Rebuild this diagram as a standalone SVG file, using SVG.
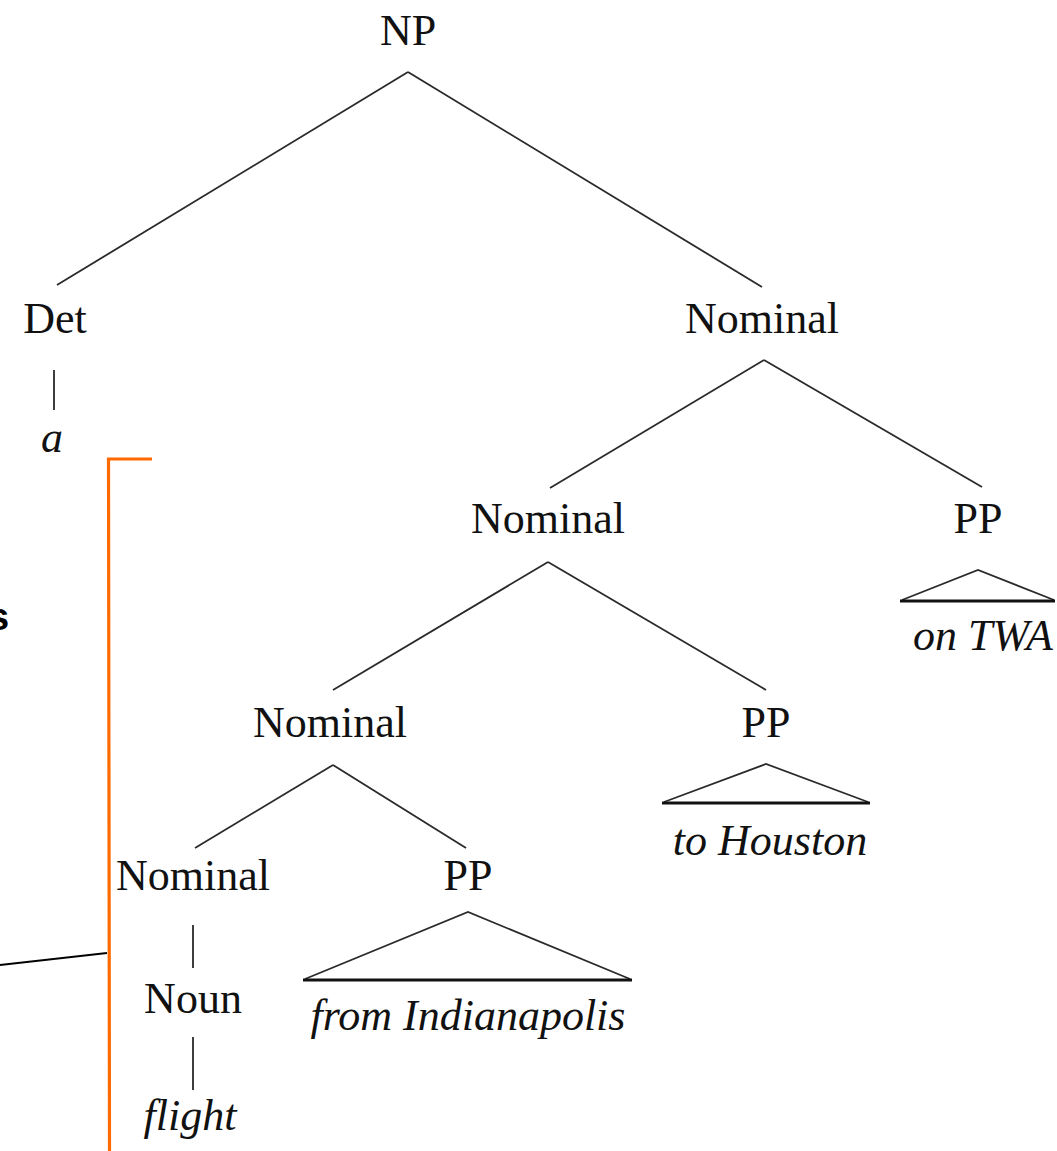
<svg xmlns="http://www.w3.org/2000/svg" width="1057" height="1151" viewBox="0 0 1057 1151">
<style>
.lbl{font-size:44px;fill:#111;text-anchor:middle}
.it{font-size:44px;font-style:italic;fill:#111;text-anchor:middle}
.e{stroke:#2a2a2a;stroke-width:1.8;fill:none}
.tri{stroke:#2a2a2a;stroke-width:1.8;fill:none}
.base{stroke:#111;stroke-width:3}
</style>
<rect width="1057" height="1151" fill="#fff"/>
<g id="connectors">
<line class="e" x1="408" y1="72" x2="57" y2="285"/>
<line class="e" x1="408" y1="72" x2="762" y2="287"/>
<line class="e" x1="54" y1="370" x2="54" y2="410"/>
<line class="e" x1="764" y1="360" x2="550" y2="488"/>
<line class="e" x1="764" y1="360" x2="982" y2="487"/>
<line class="e" x1="548" y1="562" x2="333" y2="690"/>
<line class="e" x1="548" y1="562" x2="766" y2="690"/>
<line class="e" x1="333" y1="765" x2="195" y2="848"/>
<line class="e" x1="333" y1="765" x2="466" y2="848"/>
<line class="e" x1="193" y1="925" x2="193" y2="968"/>
<line class="e" x1="193" y1="1037" x2="193" y2="1090"/>
</g>
<g font-family="Liberation Serif, serif">
<g id="NP"><text class="lbl" x="408" y="45">NP</text></g>
<g id="Det"><text class="lbl" x="55" y="333">Det</text></g>
<g id="a"><text class="it" x="52" y="452">a</text></g>
<g id="Nominal1"><text class="lbl" x="762" y="333">Nominal</text></g>
<g id="Nominal2"><text class="lbl" x="548" y="533">Nominal</text></g>
<g id="PP1"><text class="lbl" x="978" y="533">PP</text></g>
<g id="PP1tri"><polyline class="tri" points="902,600 978,570 1054,600"/><line class="base" x1="900" y1="601" x2="1055" y2="601"/></g>
<g id="onTWA"><text class="it" x="983" y="650">on TWA</text></g>
<g id="Nominal3"><text class="lbl" x="330" y="737">Nominal</text></g>
<g id="PP2"><text class="lbl" x="766" y="737">PP</text></g>
<g id="PP2tri"><polyline class="tri" points="664,802 766,764 868,802"/><line class="base" x1="662" y1="803" x2="870" y2="803"/></g>
<g id="toHouston"><text class="it" x="770" y="855">to Houston</text></g>
<g id="Nominal4"><text class="lbl" x="193" y="890">Nominal</text></g>
<g id="PP3"><text class="lbl" x="468" y="890">PP</text></g>
<g id="PP3tri"><polyline class="tri" points="305,979 468,912 630,979"/><line class="base" x1="303" y1="980" x2="632" y2="980"/></g>
<g id="fromIndianapolis"><text class="it" x="468" y="1030">from Indianapolis</text></g>
<g id="Noun"><text class="lbl" x="193" y="1013">Noun</text></g>
<g id="flight"><text class="it" x="190" y="1130">flight</text></g>
</g>
<g id="annotation">
<polyline points="152,459 108.5,459 109.5,1151" stroke="#ff6a00" stroke-width="3.2" fill="none"/>
<line x1="0" y1="965" x2="107" y2="953" stroke="#000" stroke-width="1.8"/>
<text x="-12" y="630" font-family="Liberation Sans, Arial, sans-serif" font-size="38" font-weight="bold" fill="#000">s</text>
</g>
</svg>
